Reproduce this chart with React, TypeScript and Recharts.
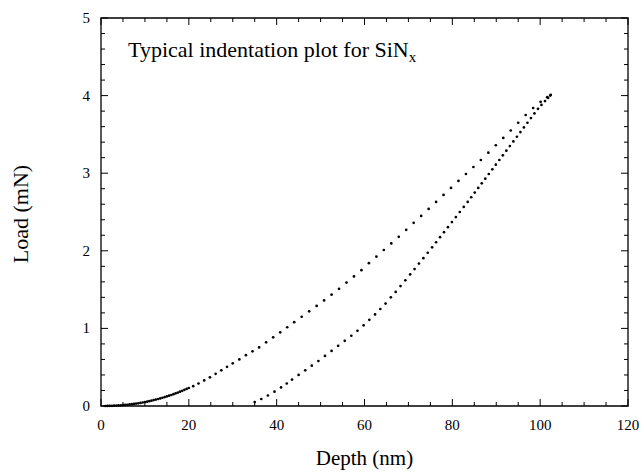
import { ScatterChart, Scatter, XAxis, YAxis, ReferenceArea, Customized } from 'recharts';

// loading branch (depth nm, load mN)
const loadingDepth = [
  1.0, 1.5, 2.0, 2.5, 3.0, 3.5, 4.0, 4.5, 5.0, 5.5, 6.0, 6.5, 7.0, 7.5, 8.0, 8.5, 9.0, 9.5, 10.0,
  10.5, 11.0, 11.5, 12.0, 12.5, 13.0, 13.5, 14.0, 14.5, 15.0, 15.5, 16.0, 16.5, 17.0, 17.5, 18.0,
  18.5, 19.0, 19.5, 20.0, 21.0, 22.2, 23.5, 24.8, 26.1, 27.4, 28.7, 30.0, 31.5, 33.0, 34.5, 36.0,
  37.6, 39.2, 40.8, 42.4, 44.0, 45.7, 47.4, 49.1, 50.8, 52.5, 54.2, 55.9, 57.6, 59.3, 61.0, 62.7,
  64.4, 66.1, 67.8, 69.5, 71.2, 72.9, 74.6, 76.3, 78.0, 79.7, 81.4, 83.1, 84.8, 86.5, 88.2, 89.9,
  91.6, 93.3, 95.0, 96.7, 98.4, 100.1, 101.6, 102.4,
];
const loadingLoad = [
  0.0, 0.001, 0.002, 0.002, 0.004, 0.005, 0.007, 0.009, 0.011, 0.014, 0.016, 0.02, 0.023, 0.027,
  0.031, 0.035, 0.04, 0.045, 0.051, 0.056, 0.062, 0.069, 0.076, 0.083, 0.09, 0.098, 0.106, 0.115,
  0.123, 0.133, 0.142, 0.152, 0.163, 0.173, 0.184, 0.196, 0.208, 0.22, 0.232, 0.255, 0.29, 0.33,
  0.37, 0.415, 0.46, 0.505, 0.55, 0.6, 0.655, 0.705, 0.755, 0.82, 0.885, 0.95, 1.015, 1.08, 1.15,
  1.22, 1.29, 1.36, 1.435, 1.51, 1.59, 1.67, 1.75, 1.84, 1.925, 2.01, 2.095, 2.18, 2.27, 2.36,
  2.45, 2.54, 2.63, 2.72, 2.81, 2.9, 2.99, 3.08, 3.17, 3.265, 3.36, 3.455, 3.55, 3.65, 3.75, 3.84,
  3.92, 3.98, 4.01,
];

// unloading branch
const unloadingDepth = [
  35.0, 36.5, 38.0, 39.5, 41.0, 42.3, 43.5, 45.0, 46.5, 48.0, 49.5, 51.0, 52.5, 54.0, 55.5, 57.0,
  58.4, 59.8, 61.1, 62.4, 63.6, 64.8, 66.0, 67.1, 68.2, 69.3, 70.4, 71.4, 72.4, 73.4, 74.4, 75.4,
  76.3, 77.2, 78.1, 79.0, 79.9, 80.8, 81.7, 82.6, 83.5, 84.3, 85.1, 85.9, 86.7, 87.5, 88.3, 89.1,
  89.9, 90.7, 91.5, 92.3, 93.1, 93.9, 94.7, 95.5, 96.3, 97.1, 97.9, 98.7, 99.5, 100.3, 101.1,
  101.8, 102.3,
];
const unloadingLoad = [
  0.05, 0.09, 0.135, 0.185, 0.24, 0.29, 0.34, 0.4, 0.46, 0.52, 0.58, 0.645, 0.71, 0.775, 0.84,
  0.905, 0.97, 1.04, 1.11, 1.18, 1.25, 1.32, 1.4, 1.47, 1.545, 1.62, 1.695, 1.765, 1.835, 1.905,
  1.975, 2.045, 2.11, 2.175, 2.24, 2.305, 2.37, 2.435, 2.5, 2.565, 2.63, 2.69, 2.75, 2.81, 2.87,
  2.93, 2.99, 3.05, 3.11, 3.17, 3.23, 3.29, 3.35, 3.41, 3.47, 3.53, 3.59, 3.65, 3.71, 3.77, 3.83,
  3.88, 3.93, 3.97, 4.0,
];

const xTicks = [0, 5, 10, 15, 20, 25, 30, 35, 40, 45, 50, 55, 60, 65, 70, 75, 80, 85, 90, 95, 100, 105, 110, 115, 120];
const yTicks = [0, 0.2, 0.4, 0.6, 0.8, 1, 1.2, 1.4, 1.6, 1.8, 2, 2.2, 2.4, 2.6, 2.8, 3, 3.2, 3.4, 3.6, 3.8, 4, 4.2, 4.4, 4.6, 4.8, 5];
const xMajor = [0, 20, 40, 60, 80, 100, 120];
const yMajor = [0, 1, 2, 3, 4, 5];

const loading = loadingDepth.map((d, i) => ({ depth: d, load: loadingLoad[i] }));
const unloading = unloadingDepth.map((d, i) => ({ depth: d, load: unloadingLoad[i] }));

const W = 642;
const H = 473;
const margin = { top: 18, right: 14, left: 0, bottom: 0 };
const yAxisW = 101;
const xAxisH = 67;
const plotW = W - margin.right - margin.left - yAxisW;
const plotH = H - margin.top - margin.bottom - xAxisH;
const font = '"Liberation Serif", "Times New Roman", serif';

function XTick(props: any) {
  const { x, y, payload } = props;
  const v = payload.value;
  const major = xMajor.includes(v);
  const len = major ? 7 : 4;
  return (
    <g>
      <line x1={x} y1={y} x2={x} y2={y - len} stroke="#000" />
      <line x1={x} y1={y - plotH} x2={x} y2={y - plotH + len} stroke="#000" />
      {major && (
        <text x={x} y={y + 24} textAnchor="middle" fontSize={15} fontFamily={font} fill="#000">
          {v}
        </text>
      )}
    </g>
  );
}

function YTick(props: any) {
  const { x, y, payload } = props;
  const v = payload.value;
  const major = yMajor.includes(v);
  const len = major ? 7 : 4;
  return (
    <g>
      <line x1={x} y1={y} x2={x + len} y2={y} stroke="#000" />
      <line x1={x + plotW} y1={y} x2={x + plotW - len} y2={y} stroke="#000" />
      {major && (
        <text x={x - 11} y={y + 5} textAnchor="end" fontSize={15} fontFamily={font} fill="#000">
          {v}
        </text>
      )}
    </g>
  );
}

const Dot = (p: any) => <circle cx={p.cx} cy={p.cy} r={1.35} fill="#000" />;

function Texts() {
  const cy = margin.top + plotH / 2 + 2;
  return (
    <g fontFamily={font} fill="#000">
      <text x={128} y={57} fontSize={22}>
        Typical indentation plot for SiN
        <tspan fontSize={15} dy={5}>x</tspan>
      </text>
      <text x={margin.left + yAxisW + plotW / 2} y={465} textAnchor="middle" fontSize={21}>
        Depth (nm)
      </text>
      <text x={28} y={cy} textAnchor="middle" fontSize={22} transform={`rotate(-90 28 ${cy})`}>
        Load (mN)
      </text>
    </g>
  );
}

export default function App() {
  return (
    <div style={{ position: 'absolute', left: 0, top: 0, background: '#fff' }}>
      <ScatterChart width={W} height={H} margin={margin}>
        <XAxis
          type="number"
          dataKey="depth"
          domain={[0, 120]}
          ticks={xTicks}
          interval={0}
          height={xAxisH}
          tickSize={0}
          tickMargin={0}
          tickLine={false}
          axisLine={false}
          tick={<XTick />}
        />
        <YAxis
          type="number"
          dataKey="load"
          domain={[0, 5]}
          ticks={yTicks}
          interval={0}
          width={yAxisW}
          tickSize={0}
          tickMargin={0}
          tickLine={false}
          axisLine={false}
          tick={<YTick />}
        />
        <ReferenceArea x1={0} x2={120} y1={0} y2={5} fill="none" stroke="#000" strokeWidth={1.3} ifOverflow="visible" />
        <Scatter data={loading} shape={Dot} isAnimationActive={false} />
        <Scatter data={unloading} shape={Dot} isAnimationActive={false} />
        <Customized component={Texts} />
      </ScatterChart>
    </div>
  );
}
